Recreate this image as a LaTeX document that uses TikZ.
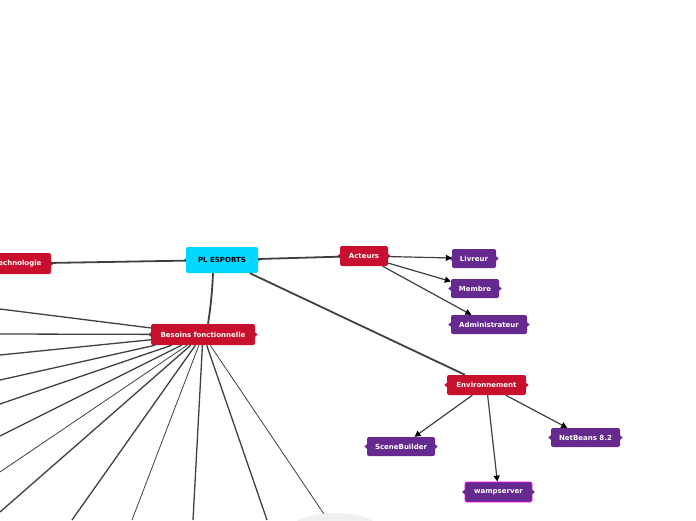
\documentclass[tikz,border=0pt]{standalone}
\usepackage{fontspec}
\setmainfont{DejaVu Sans}
\usetikzlibrary{arrows.meta}
\definecolor{cred}{HTML}{C8102E}
\definecolor{cpurple}{HTML}{66298F}
\definecolor{ccyan}{HTML}{00D8FF}
\definecolor{cline}{HTML}{404040}
\definecolor{cmag}{HTML}{FF00FF}
\tikzset{
  box/.style={rounded corners=2pt, inner sep=0pt, font=\fontsize{7}{8}\selectfont\bfseries, text=white},
  redbox/.style={box, fill=cred},
  purplebox/.style={box, fill=cpurple},
  rootbox/.style={box, fill=ccyan, text=black},
  mainlink/.style={draw=cline, line width=1.8pt},
  fanlink/.style={draw=cline, line width=1.3pt},
  thinfan/.style={draw=cline, line width=0.8pt},
  arrlink/.style={draw=cline, line width=1.2pt, -{Triangle[length=6pt,width=6pt,color=black]}},
}
\begin{document}
\begin{tikzpicture}[x=1pt,y=-1pt]
\useasboundingbox (0,0) rectangle (696,520);
\clip (0,0) rectangle (696,520);
\fill[white] (0,0) rectangle (696,520);

% nodes (positions)
\node[rootbox, minimum width=72pt, minimum height=26pt] (pl) at (222,260) {PL ESPORTS};
\node[redbox, minimum width=66pt, minimum height=21pt] (tech) at (18,263.5) {Technologie};
\node[redbox, minimum width=48pt, minimum height=20pt] (act) at (364,256) {Acteurs};
\node[purplebox, minimum width=44pt, minimum height=19pt] (liv) at (474,258.5) {Livreur};
\node[purplebox, minimum width=48pt, minimum height=19pt] (mem) at (475,288.5) {Membre};
\node[purplebox, minimum width=76pt, minimum height=19pt] (adm) at (489,324.5) {Administrateur};
\node[redbox, minimum width=104pt, minimum height=21pt] (bf) at (203,334.5) {Besoins fonctionnelle};
\node[redbox, minimum width=79pt, minimum height=20pt] (env) at (486.5,385) {Environnement};
\node[purplebox, minimum width=68pt, minimum height=19pt] (sb) at (401,446.5) {SceneBuilder};
\node[purplebox, minimum width=69pt, minimum height=19pt] (nb) at (585.5,437.5) {NetBeans 8.2};
\node[purplebox, draw=cmag, line width=0.8pt, minimum width=67pt, minimum height=20pt] (wamp) at (498.5,492) {wampserver};

% side markers
\foreach \n/\c in {pl/ccyan, tech/cred, act/cred, bf/cred, env/cred, liv/cpurple, mem/cpurple, adm/cpurple, sb/cpurple, nb/cpurple, wamp/cpurple}{
  \fill[\c] ([xshift=-0.5pt]\n.east) ++(0,-2.5) -- ++(3,2.5) -- ++(-3,2.5) -- cycle;
  \fill[\c] ([xshift=0.5pt]\n.west) ++(0,-2.5) -- ++(-3,2.5) -- ++(3,2.5) -- cycle;
}

% fan end points
\coordinate (f1) at (0,309);
\coordinate (f2) at (0,334);
\coordinate (f3) at (0,355);
\coordinate (f4) at (0,380);
\coordinate (f5) at (0,404);
\coordinate (f6) at (0,436);
\coordinate (f7) at (0,472);
\coordinate (f8) at (0,512);
\coordinate (f9) at (72,520);
\coordinate (f10) at (132,520);
\coordinate (f11) at (193,520);
\coordinate (f12) at (267,520);
\coordinate (f13) at (328,520);

\foreach \e in {f1,f2,f3,f4,f5,f6,f8,f9,f11,f12}{ \path[fanlink] (bf) -- (\e); }
\foreach \e in {f7,f10,f13}{ \path[thinfan] (bf) -- (\e); }

\fill[gray!12] (335,535) ellipse [x radius=50pt, y radius=22pt];

% main links
\path[mainlink] (pl) -- (tech);
\path[mainlink] (pl) -- (act);
\path[mainlink] ([xshift=-9pt]pl.south) to[bend left=3] ([xshift=5pt]bf.north);
\path[mainlink] (pl) -- (env);

% arrows
\path[arrlink] (act) -- (liv);
\path[arrlink] (act) -- (mem);
\path[arrlink] (act) -- (adm);
\path[arrlink] (env) -- (sb);
\path[arrlink] (env) -- (wamp);
\path[arrlink] (env) -- (nb);
\end{tikzpicture}
\end{document}
